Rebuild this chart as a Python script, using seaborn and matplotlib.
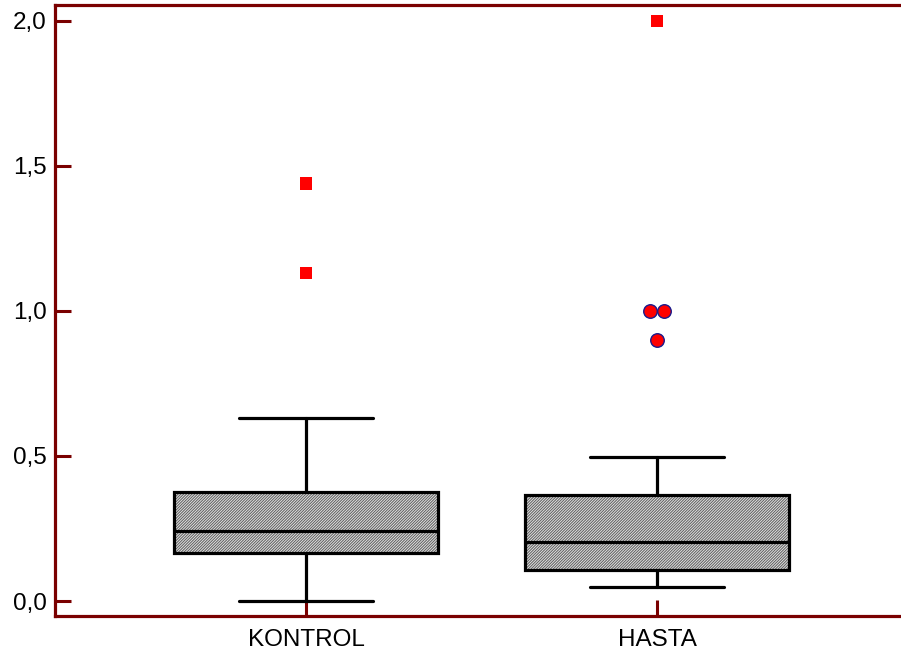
import matplotlib
matplotlib.use("Agg")
import matplotlib.pyplot as plt
import numpy as np
import pandas as pd
import seaborn as sns
from matplotlib.patches import PathPatch

# Box plot summary per group
groups = ["KONTROL", "HASTA"]
q1 = [0.166, 0.107]
median = [0.241, 0.203]
q3 = [0.376, 0.366]
whisker_low = [0.0, 0.048]
whisker_high = [0.631, 0.497]

# Outside values (beyond 1.5 IQR) drawn as circles
outside_group = ["HASTA", "HASTA", "HASTA"]
outside_values = [1.0, 1.0, 0.9]
# Far-out values (beyond 3 IQR) drawn as squares
far_group = ["KONTROL", "KONTROL", "HASTA"]
far_values = [1.44, 1.13, 2.0]

yticks = [0.0, 0.5, 1.0, 1.5, 2.0]
ytick_labels = ["0,0", "0,5", "1,0", "1,5", "2,0"]

sns.set_theme(style="white")
plt.rcParams["font.family"] = ["Liberation Sans", "DejaVu Sans"]
plt.rcParams["hatch.linewidth"] = 0.75

AXIS_RED = "#7a0000"

fig = plt.figure(figsize=(9.01, 6.59), dpi=100)
ax = fig.add_axes([55 / 901, 43 / 659, 846 / 901, 611 / 659])

pos = {g: i for i, g in enumerate(groups)}

stats = []
for i, g in enumerate(groups):
    stats.append(dict(label=g, q1=q1[i], med=median[i], q3=q3[i],
                      whislo=whisker_low[i], whishi=whisker_high[i], fliers=[]))

line_kw = dict(color="black", linewidth=2.3)
bp = ax.bxp(stats, positions=[pos[g] for g in groups], widths=0.75,
            capwidths=0.38, patch_artist=True, showfliers=False,
            boxprops=dict(facecolor="none", edgecolor="black", linewidth=2.3),
            whiskerprops=line_kw, capprops=line_kw, medianprops=line_kw,
            manage_ticks=False)

# hatched fill underneath each box outline
for box in bp["boxes"]:
    fill = PathPatch(box.get_path(), transform=box.get_transform(),
                     facecolor="#e6e6e6", edgecolor="#626262", hatch="////////////",
                     linewidth=0, zorder=box.get_zorder() - 0.5)
    ax.add_patch(fill)


def spread(grp, vals):
    xs = []
    seen = {}
    for g, v in zip(grp, vals):
        key = (g, v)
        seen[key] = seen.get(key, 0) + 1
    count = {}
    for g, v in zip(grp, vals):
        key = (g, v)
        n = seen[key]
        k = count.get(key, 0)
        count[key] = k + 1
        xs.append(pos[g] + (k - (n - 1) / 2) * 0.04)
    return xs


outside_df = pd.DataFrame({"x": spread(outside_group, outside_values), "y": outside_values})
far_df = pd.DataFrame({"x": spread(far_group, far_values), "y": far_values})

sns.scatterplot(data=far_df, x="x", y="y", marker="s", s=80, color="#ff0000",
                edgecolor="none", linewidth=0, ax=ax, zorder=5)
sns.scatterplot(data=outside_df, x="x", y="y", marker="o", s=95, color="#ff0000",
                edgecolor="#1a1a8c", linewidth=1.0, ax=ax, zorder=5)

ax.set_xlim(-0.715, 1.695)
ax.set_ylim(-0.0517, 2.055)
ax.set_xticks([pos[g] for g in groups])
ax.set_xticklabels(groups)
ax.set_yticks(yticks)
ax.set_yticklabels(ytick_labels)
ax.set_xlabel("")
ax.set_ylabel("")

for side in ["left", "bottom", "top"]:
    ax.spines[side].set_visible(True)
    ax.spines[side].set_color(AXIS_RED)
    ax.spines[side].set_linewidth(2.3)
ax.spines["right"].set_visible(False)

ax.tick_params(axis="both", direction="in", length=11.5, width=2.2,
               color=AXIS_RED, labelsize=17.5, labelcolor="black")
ax.tick_params(axis="y", pad=6, left=True, right=False)
ax.tick_params(axis="x", pad=9, bottom=True, top=False)
ax.grid(False)

fig.savefig("out.png", dpi=100, facecolor="white")
